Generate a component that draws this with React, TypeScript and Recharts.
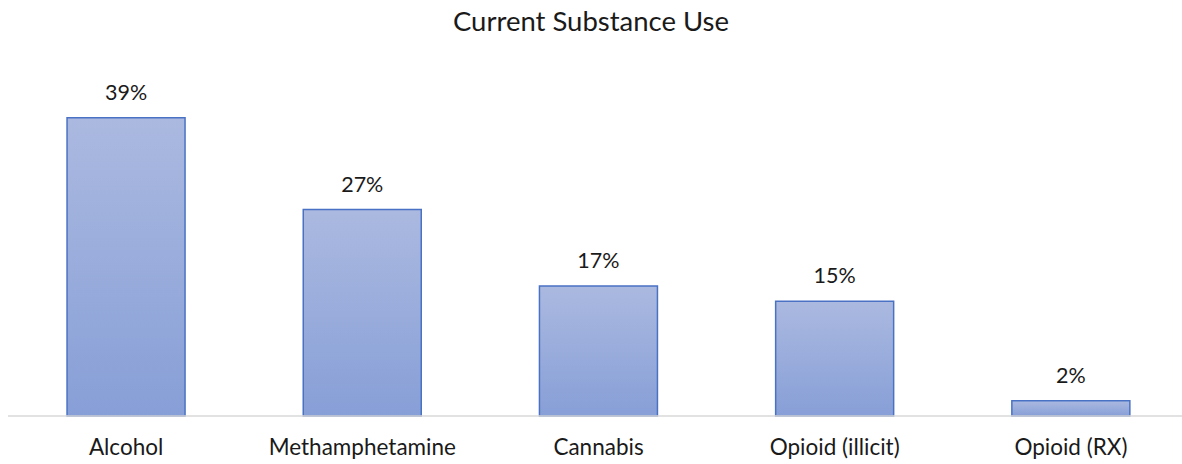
import { BarChart, XAxis, YAxis, Bar, LabelList } from "recharts";

const categories = ["Alcohol", "Methamphetamine", "Cannabis", "Opioid (illicit)", "Opioid (RX)"];
const usePct = [39, 27, 17, 15, 2];

const data = categories.map((name, i) => ({ name, value: usePct[i] }));

const FONT = "Lato, 'Open Sans', sans-serif";

export default function App() {
  return (
    <div
      style={{
        position: "absolute",
        left: 0,
        top: 0,
        width: 1182,
        height: 464,
        overflow: "hidden",
        background: "#fff",
        fontFamily: FONT,
      }}
    >
      <div
        style={{
          position: "absolute",
          top: 4,
          left: 0,
          width: 1182,
          textAlign: "center",
          fontSize: 27.5,
          color: "#1a1a1a",
        }}
      >
        Current Substance Use
      </div>
      <BarChart
        width={1190}
        height={464}
        data={data}
        margin={{ top: 72, right: 1, left: 8, bottom: 8 }}
        barCategoryGap="25%"
      >
        <defs>
          <linearGradient id="barFill" x1="0" y1="0" x2="0" y2="1">
            <stop offset="0%" stopColor="#abb9e0" />
            <stop offset="100%" stopColor="#879fd7" />
          </linearGradient>
        </defs>
        <XAxis
          dataKey="name"
          height={40}
          tickLine={false}
          axisLine={{ stroke: "#d9d9d9", strokeWidth: 1.5 }}
          tick={{ fill: "#1a1a1a", fontSize: 22.5, fontFamily: FONT }}
          tickMargin={17}
          interval={0}
        />
        <YAxis hide domain={[0, 45]} />
        <Bar
          dataKey="value"
          fill="url(#barFill)"
          stroke="#4a72c4"
          strokeWidth={1.5}
          isAnimationActive={false}
        >
          <LabelList
            dataKey="value"
            position="top"
            offset={18}
            formatter={(v: any) => `${v}%`}
            style={{ fill: "#1a1a1a", fontSize: 21.5, fontFamily: FONT }}
          />
        </Bar>
      </BarChart>
    </div>
  );
}
